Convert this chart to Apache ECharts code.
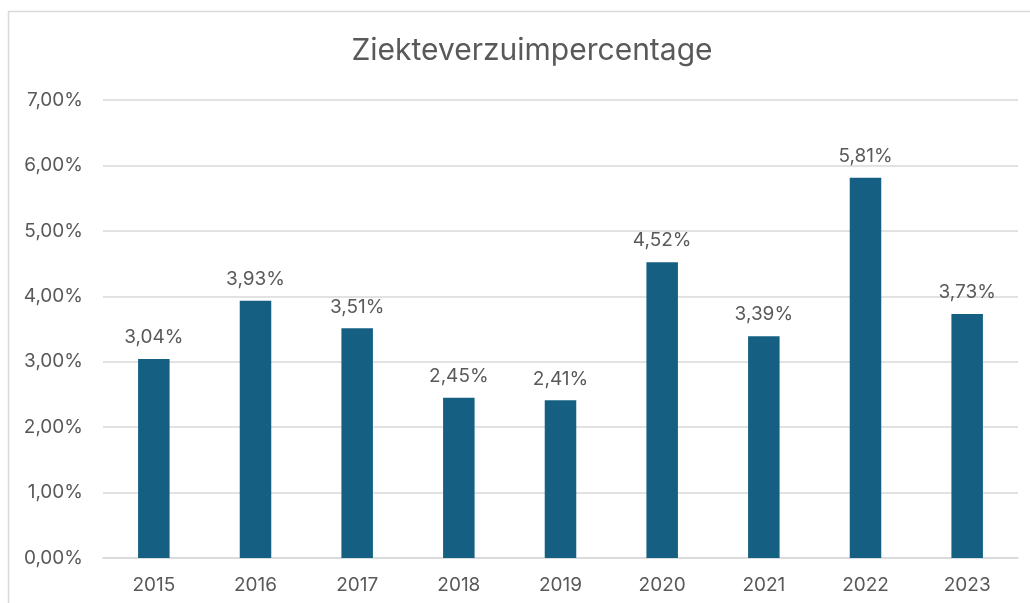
<!DOCTYPE html>
<html>
<head>
<meta charset="utf-8">
<script src="https://cdn.jsdelivr.net/npm/echarts@6/dist/echarts.min.js"></script>
<style>
html,body{margin:0;padding:0;background:#fff;}
#c{width:1030px;height:603px;}
</style>
</head>
<body>
<div id="c"></div>
<script>
const titleText = 'Ziekteverzuimpercentage';
const years = ['2015','2016','2017','2018','2019','2020','2021','2022','2023'];
const values = [3.04, 3.93, 3.51, 2.45, 2.41, 4.52, 3.39, 5.81, 3.73];
const yTicks = [0, 1, 2, 3, 4, 5, 6, 7];

const fmt = v => Number(v).toFixed(2).replace('.', ',') + '%';
const FONT = 'Inter, "Open Sans", sans-serif';

const chart = echarts.init(document.getElementById('c'), null, {renderer: 'canvas'});
chart.setOption({
  animation: false,
  backgroundColor: '#ffffff',
  graphic: [{
    type: 'rect',
    shape: {x: 8.5, y: 11.5, width: 1060, height: 640},
    style: {fill: 'none', stroke: '#d9d9d9', lineWidth: 1.5},
    silent: true
  }],
  title: {
    text: titleText,
    left: 527,
    textAlign: 'center',
    top: 31,
    textStyle: {fontFamily: FONT, fontSize: 30, fontWeight: 'normal', color: '#595959'}
  },
  grid: {left: 103, right: 12, top: 100, bottom: 45, containLabel: false},
  xAxis: {
    type: 'category',
    data: years,
    axisLine: {lineStyle: {color: '#d9d9d9', width: 1.5}},
    axisTick: {show: false},
    axisLabel: {color: '#595959', fontFamily: FONT, fontSize: 19, margin: 18}
  },
  yAxis: {
    type: 'value',
    min: yTicks[0],
    max: yTicks[yTicks.length - 1],
    interval: 1,
    axisLine: {show: false},
    axisTick: {show: false},
    splitLine: {lineStyle: {color: '#d9d9d9', width: 1.5}},
    axisLabel: {color: '#595959', fontFamily: FONT, fontSize: 19, margin: 20, formatter: fmt}
  },
  series: [{
    type: 'bar',
    data: values,
    barWidth: '31%',
    itemStyle: {color: '#156082'},
    label: {
      show: true,
      position: 'top',
      distance: 12,
      color: '#595959',
      fontFamily: FONT,
      fontSize: 19,
      formatter: p => fmt(p.value)
    }
  }]
});
</script>
</body>
</html>
